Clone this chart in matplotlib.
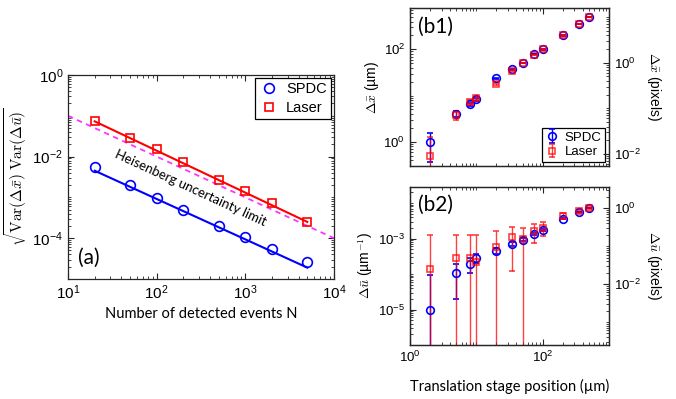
import numpy as np
import matplotlib
matplotlib.use("Agg")
import matplotlib.pyplot as plt
from matplotlib.ticker import LogLocator, NullFormatter

plt.rcParams['font.family'] = ['Liberation Sans', 'DejaVu Sans']

# ---- panel (a): variance product vs number of detected events ----
N = [20, 50, 100, 200, 500, 1000, 2000, 5000]
spdc_var = [5.65e-3, 2.0e-3, 9.6e-4, 4.8e-4, 2.0e-4, 1.06e-4, 5.4e-5, 2.6e-5]
laser_var = [7.6e-2, 2.86e-2, 1.53e-2, 7.3e-3, 2.65e-3, 1.45e-3, 7.3e-4, 2.47e-4]
fit_N = [20, 5000]
spdc_fit = [4.5e-3, 1.9e-5]
laser_fit = [7.3e-2, 2.5e-4]
heis_N = [10, 1e4]
heis_limit = [1e-1, 1e-4]

# ---- panels (b1)/(b2): translation stage scan ----
pos = [2, 5, 8, 10, 20, 35, 50, 75, 100, 200, 350, 500]
dx_spdc = [0.97, 4.0, 6.45, 8.3, 23.5, 36.9, 50.5, 80, 100, 200, 352, 500]
dx_laser = [0.49, 3.77, 7.3, 8.7, 18, 34.7, 50.5, 75, 100, 200, 352, 500]
dx_spdc_err = [0.6] * 12
dx_laser_err = [0.8] * 12
du_spdc = [1.0e-5, 1.05e-4, 1.93e-4, 2.85e-4, 4.6e-4, 7.1e-4, 9.4e-4,
           1.35e-3, 1.76e-3, 3.59e-3, 5.65e-3, 7.3e-3]
du_laser = [1.43e-4, 2.85e-4, 2.85e-4, 2.2e-4, 5.7e-4, 1.12e-3, 9.8e-4,
            1.68e-3, 2.0e-3, 4.3e-3, 5.9e-3, 7.3e-3]
du_spdc_err = [8.5e-5] * 12
du_laser_err = [1.1e-3, 1.0e-3, 0.95e-3, 1.0e-3, 1.03e-3, 1.0e-3, 1.0e-3,
                0.92e-3, 0.85e-3, 0.8e-3, 0.5e-3, 0.4e-3]

CAL = ['Lato', 'DejaVu Sans']
SPINE = '#262626'


def style_log(ax, size):
    for s in ax.spines.values():
        s.set_color(SPINE)
        s.set_linewidth(0.9)
    ax.tick_params(which='both', direction='in', top=True, right=True,
                   labelsize=size, colors=SPINE, labelcolor='black')
    ax.tick_params(which='major', length=4)
    ax.tick_params(which='minor', length=2)


fig = plt.figure(figsize=(6.76, 3.99), dpi=100)

# ── (a) ───────────────────────────────────────────────────────────────────────
ax = fig.add_axes([0.1006, 0.3008, 0.3935, 0.5113])
ax.set_xscale('log'); ax.set_yscale('log')
ax.set_xlim(10, 1e4); ax.set_ylim(1e-5, 1)
ax.plot(heis_N, heis_limit, '--', color='#ff33ff', lw=1.3, dashes=(3, 2.5))
ax.plot(fit_N, laser_fit, '-', color='red', lw=1.5)
ax.plot(fit_N, spdc_fit, '-', color='blue', lw=1.5)
ax.plot(N, spdc_var, 'o', mfc='none', mec='blue', ms=7, mew=1.2, label='SPDC')
ax.plot(N, laser_var, 's', mfc='none', mec='red', ms=5.5, mew=1.2, label='Laser')
ax.set_yticks([1e-4, 1e-2, 1])
ax.yaxis.set_minor_locator(LogLocator(base=10, subs=np.arange(1, 10), numticks=100))
ax.yaxis.set_minor_formatter(NullFormatter())
ax.xaxis.set_minor_locator(LogLocator(base=10, subs=np.arange(2, 10), numticks=100))
ax.xaxis.set_minor_formatter(NullFormatter())
style_log(ax, 11)
ax.set_xlabel('Number of detected events N', family=CAL, fontsize=10.5, labelpad=3)
ax.set_ylabel(r'$\sqrt{\mathrm{Var}(\Delta\bar{x})\ \mathrm{Var}(\Delta\bar{u})}$',
              math_fontfamily='cm', fontsize=11, labelpad=2)
leg = ax.legend(loc='upper right', fontsize=10.5, fancybox=False, edgecolor='black',
                framealpha=1, borderaxespad=0.2, handlelength=1.2, handletextpad=0.6,
                borderpad=0.3, labelspacing=0.3)
leg.get_frame().set_linewidth(0.9)
ax.text(0.078, 0.103, '(a)', transform=ax.transAxes, ha='center', va='center',
        fontsize=15, family=CAL)
p = ax.transData.transform([(heis_N[0], heis_limit[0]), (heis_N[1], heis_limit[1])])
ang = np.degrees(np.arctan2(p[1, 1] - p[0, 1], p[1, 0] - p[0, 0]))
ax.text(240, 1.65e-3, 'Heisenberg uncertainty limit', rotation=ang,
        rotation_mode='anchor', ha='center', va='center', fontsize=9.5, family=CAL)

# ── (b1) ──────────────────────────────────────────────────────────────────────
b1 = fig.add_axes([0.6065, 0.5847, 0.2944, 0.3945])
b1.set_xscale('log'); b1.set_yscale('log')
b1.errorbar(pos, dx_spdc, yerr=dx_spdc_err, fmt='o', mfc='none', color='blue',
            ms=5.5, mew=1.2, elinewidth=1, capsize=2, label='SPDC')
b1.errorbar(pos, dx_laser, yerr=dx_laser_err, fmt='s', mfc='none', color='red',
            alpha=0.75, ms=4.5, mew=1.2, elinewidth=1, capsize=2, label='Laser')
b1.set_xlim(1, 1000); b1.set_ylim(10 ** -0.52, 10 ** 2.89)
b1.set_xticks([1, 100]); b1.set_yticks([1, 100])
for a in (b1.xaxis, b1.yaxis):
    a.set_minor_locator(LogLocator(base=10, subs=np.arange(1, 10), numticks=100))
    a.set_minor_formatter(NullFormatter())
b1.set_xticklabels([])
style_log(b1, 9.5)
b1.tick_params(right=False, which='both')
b1.set_ylabel(r'$\Delta\bar{x}$ (µm)', math_fontfamily='cm', fontsize=10, labelpad=2)
leg = b1.legend(loc='lower right', fontsize=9.5, fancybox=False, edgecolor='black',
                framealpha=1, borderaxespad=0.3, handlelength=1.0, handletextpad=0.5,
                borderpad=0.25, labelspacing=0.2)
leg.get_frame().set_linewidth(0.9)
b1.text(0.13, 0.88, '(b1)', transform=b1.transAxes, ha='center', va='center',
        fontsize=15, family=CAL)
r1 = b1.twinx()
r1.set_yscale('log')
r1.set_ylim(10 ** -2.256, 10 ** 1.19)
r1.set_yticks([1e-2, 1])
r1.yaxis.set_minor_locator(LogLocator(base=10, subs=np.arange(1, 10), numticks=100))
r1.yaxis.set_minor_formatter(NullFormatter())
style_log(r1, 9.5)
r1.set_ylabel(r'$\Delta\bar{x}$ (pixels)', math_fontfamily='cm', fontsize=10,
              rotation=270, va='bottom', labelpad=3)

# ── (b2) ──────────────────────────────────────────────────────────────────────
b2 = fig.add_axes([0.6065, 0.1353, 0.2944, 0.3967])
b2.set_xscale('log'); b2.set_yscale('log')
b2.errorbar(pos, du_spdc, yerr=du_spdc_err, fmt='o', mfc='none', color='blue',
            ms=5.5, mew=1.2, elinewidth=1, capsize=2)
b2.errorbar(pos, du_laser, yerr=du_laser_err, fmt='s', mfc='none', color='red',
            alpha=0.75, ms=4.5, mew=1.2, elinewidth=1, capsize=2)
b2.set_xlim(1, 1000); b2.set_ylim(1e-6, 10 ** -1.54)
b2.set_xticks([1, 100]); b2.set_yticks([1e-5, 1e-3])
for a in (b2.xaxis, b2.yaxis):
    a.set_minor_locator(LogLocator(base=10, subs=np.arange(1, 10), numticks=100))
    a.set_minor_formatter(NullFormatter())
style_log(b2, 9.5)
b2.tick_params(right=False, which='both')
b2.set_ylabel(r'$\Delta\bar{u}$ (µm$^{-1}$)', math_fontfamily='cm', fontsize=10, labelpad=2)
b2.set_xlabel('Translation stage position (µm)', family=CAL, fontsize=10.5, labelpad=10)
b2.text(0.13, 0.884, '(b2)', transform=b2.transAxes, ha='center', va='center',
        fontsize=15, family=CAL)
r2 = b2.twinx()
r2.set_yscale('log')
r2.set_ylim(10 ** -3.61, 10 ** 0.57)
r2.set_yticks([1e-2, 1])
r2.yaxis.set_minor_locator(LogLocator(base=10, subs=np.arange(1, 10), numticks=100))
r2.yaxis.set_minor_formatter(NullFormatter())
style_log(r2, 9.5)
r2.set_ylabel(r'$\Delta\bar{u}$ (pixels)', math_fontfamily='cm', fontsize=10,
              rotation=270, va='bottom', labelpad=3)

fig.savefig('out.png', dpi=100)
